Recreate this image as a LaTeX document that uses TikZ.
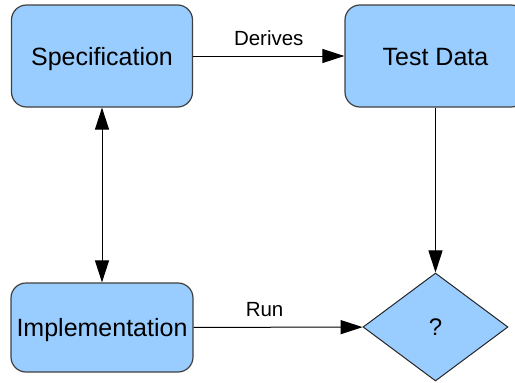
\documentclass[tikz,border=0pt]{standalone}
\usepackage{fontspec}
\setmainfont{Liberation Sans}
\usetikzlibrary{positioning,arrows.meta,shapes.geometric}
\definecolor{boxblue}{HTML}{99CCFF}

\begin{document}
\begin{tikzpicture}[x=1pt, y=-1pt, >={Triangle[length=22pt,width=14pt]},
    box/.style={draw=black!75, fill=boxblue, rounded corners=15pt, line width=1.2pt, minimum width=181pt, inner sep=0pt, text height=18pt, text depth=0pt, font=\fontsize{25}{30}\selectfont},
    decision/.style={diamond, draw=black!85, fill=boxblue, minimum width=145pt, minimum height=108pt, inner sep=0pt, line width=1pt, font=\fontsize{24}{28}\selectfont},
    link/.style={line width=1pt},
    lbl/.style={inner sep=0pt, font=\fontsize{20.5}{24}\selectfont}]
  \useasboundingbox (0,0) rectangle (515,383);
  \clip (0,0) rectangle (515,383);
  % the four shapes
  \node[box, minimum height=102pt] (spec) at (102,56) {Specification};
  \node[box, minimum height=102pt] (test) at (435.5,56) {Test Data};
  \node[box, minimum height=89pt, minimum width=182pt] (impl) at (102,327.5) {Implementation};
  \node[decision] (check) at (435.5,327) {?};
  % connectors
  \draw[link, ->] (spec) -- node[lbl, above=10pt] {Derives} (test);
  \draw[link, <->] (spec) -- (impl);
  \draw[link, ->] (test) -- (check);
  \draw[link, ->] (impl) -- node[lbl, above=10pt, pos=0.42] {Run} (check);
\end{tikzpicture}
\end{document}
